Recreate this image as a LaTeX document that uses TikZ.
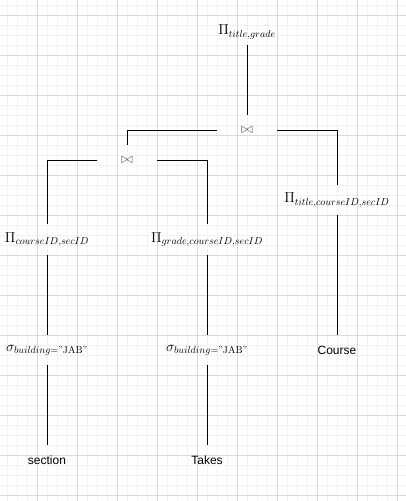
\documentclass[tikz,border=0pt]{standalone}
\usepackage{amsmath}
\usepackage{fontspec}
\newfontfamily\labelsans{Liberation Sans}
\DeclareMathSizes{13.5}{13.5}{10}{8}
\DeclareMathSizes{14.5}{14.5}{10}{8}
\definecolor{gridmajor}{HTML}{DADADA}
\definecolor{gridminor}{HTML}{F1F1F1}
\definecolor{joingray}{HTML}{555555}
\begin{document}
\begin{tikzpicture}[x=1pt,y=-1pt,
  op/.style={inner sep=0pt, minimum height=30pt, font=\fontsize{13.5}{16}\selectfont},
  joinop/.style={inner sep=0pt, minimum width=60pt, minimum height=30pt, text=joingray, font=\fontsize{14.5}{17}\selectfont},
  rel/.style={inner sep=0pt, minimum height=30pt, font=\labelsans\fontsize{12}{14}\selectfont},
  edge/.style={line width=1pt, black},
  minorline/.style={line width=0.8pt, gridminor},
  majorline/.style={line width=0.8pt, gridmajor}]
\useasboundingbox (0,0) rectangle (406,501);
\fill[white] (0,0) rectangle (406,501);
\foreach \x in {7,17,...,407} \draw[minorline] (\x,0) -- (\x,501);
\foreach \y in {5,15,...,501} \draw[minorline] (0,\y) -- (406,\y);
\foreach \x in {37,77,...,407} \draw[majorline] (\x,0) -- (\x,501);
\foreach \y in {15,55,...,501} \draw[majorline] (0,\y) -- (406,\y);

\node[op, minimum height=26pt] (pTop) at (247,32) {$\Pi_{title,grade}$};
\node[joinop] (j1) at (247,130) {$\bowtie$};
\node[joinop] (j2) at (127,160) {$\bowtie$};
\node[op, minimum height=31pt] (pL) at (47,239.5) {$\Pi_{courseID,secID}$};
\node[op, minimum height=31pt] (pM) at (207,239.5) {$\Pi_{grade,courseID,secID}$};
\node[op] (pR) at (337,200) {$\Pi_{title,courseID,secID}$};
\node[op] (sL) at (47,350) {$\sigma_{building=\text{"JAB"}}$};
\node[op] (sM) at (207,350) {$\sigma_{building=\text{"JAB"}}$};
\node[rel] (course) at (337,350) {Course};
\node[rel] (section) at (47,460) {section};
\node[rel] (takes) at (207,460) {Takes};

\draw[edge] (pTop.south) -- (j1.north);
\draw[edge] (j1.west) -| (j2.north);
\draw[edge] (j1.east) -| (pR.north);
\draw[edge] (j2.west) -| (pL.north);
\draw[edge] (j2.east) -| (pM.north);
\draw[edge] (pL.south) -- (sL.north);
\draw[edge] (pM.south) -- (sM.north);
\draw[edge] (pR.south) -- (course.north);
\draw[edge] (sL.south) -- (section.north);
\draw[edge] (sM.south) -- (takes.north);
\end{tikzpicture}
\end{document}
